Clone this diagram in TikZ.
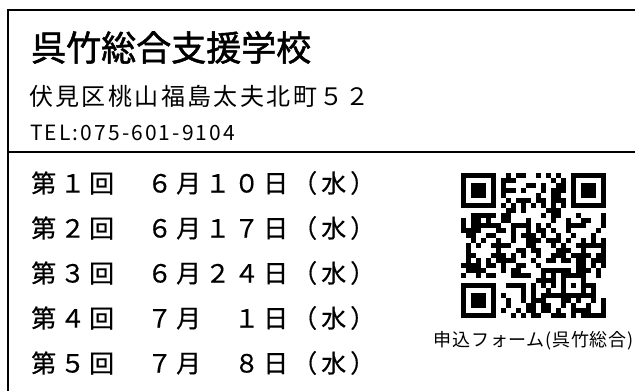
\documentclass[tikz,border=0pt]{standalone}
\usepackage{fontspec}
\setmainfont{Noto Sans CJK JP}
\usetikzlibrary{positioning}
\begin{document}
\begin{tikzpicture}[
		x=1pt, y=-1pt,
		every node/.style={inner sep=0pt, anchor=west},
		frameline/.style={line width=2pt},
		schoolname/.style={font=\fontsize{35}{35}\selectfont\addfontfeature{FakeBold=1.5}},
		address/.style={font=\fontsize{24}{24}\selectfont\addfontfeature{LetterSpace=10}},
		phone/.style={font=\fontsize{21}{21}\selectfont\addfontfeature{LetterSpace=10}},
		session/.style={font=\fontsize{25}{25}\selectfont\addfontfeature{LetterSpace=16,FakeBold=0.4}},
		caption/.style={font=\fontsize{18}{18}\selectfont\addfontfeature{LetterSpace=4}},
		qrbox/.style={minimum size=145pt, anchor=north west}
	]
	\useasboundingbox (0,0) rectangle (635,391);
	\draw[frameline] (635,10) -- (8,10) -- (8,391);
	\draw[frameline] (8,152) -- (635,152);
	\node[schoolname] (name) at (31,47.5) {呉竹総合支援学校};
	\node[address] (addr) at (29,96) {伏見区桃山福島太夫北町５２};
	\node[phone] (tel) at (30,132.5) {TEL:075-601-9104};
	\foreach \n/\d [count=\k] in {１/６月１０日,２/６月１７日,３/６月２４日,４/７月　１日,５/７月　８日}{
		\node[session] (no\k) at (31,138+45*\k) {第\n 回};
		\node[session] (date\k) at (147,138+45*\k) {\d（水）};
	}
	\node[qrbox] (qr) at (461,173) {};
	\begin{scope}[shift={(qr.north west)}]
		\pgfmathsetseed{2606}
		\foreach \i in {0,...,28}{
			\foreach \j in {0,...,28}{
				\pgfmathrandominteger{\bit}{0}{1}
				\ifnum\bit=1 \fill (\i*5,\j*5) rectangle ++(5,5);\fi
			}
		}
		\foreach \cx/\cy in {0/0,21/0,0/21}{
			\fill[white] (\cx*5,\cy*5) rectangle ++(40,40);
		}
		\foreach \cx/\cy in {0/0,22/0,0/22}{
			\fill (\cx*5,\cy*5) rectangle ++(35,35);
			\fill[white] (\cx*5+5,\cy*5+5) rectangle ++(25,25);
			\fill (\cx*5+10,\cy*5+10) rectangle ++(15,15);
		}
		\fill[white] (40,30) rectangle (105,35);
		\fill[white] (30,40) rectangle (35,105);
		\foreach \t in {8,10,...,20}{
			\fill (\t*5,30) rectangle ++(5,5);
			\fill (30,\t*5) rectangle ++(5,5);
		}
		\fill (100,100) rectangle ++(25,25);
		\fill[white] (105,105) rectangle ++(15,15);
		\fill (110,110) rectangle ++(5,5);
	\end{scope}
	\node[caption, below=13pt of qr] (form) {申込フォーム(呉竹総合)};
\end{tikzpicture}
\end{document}
